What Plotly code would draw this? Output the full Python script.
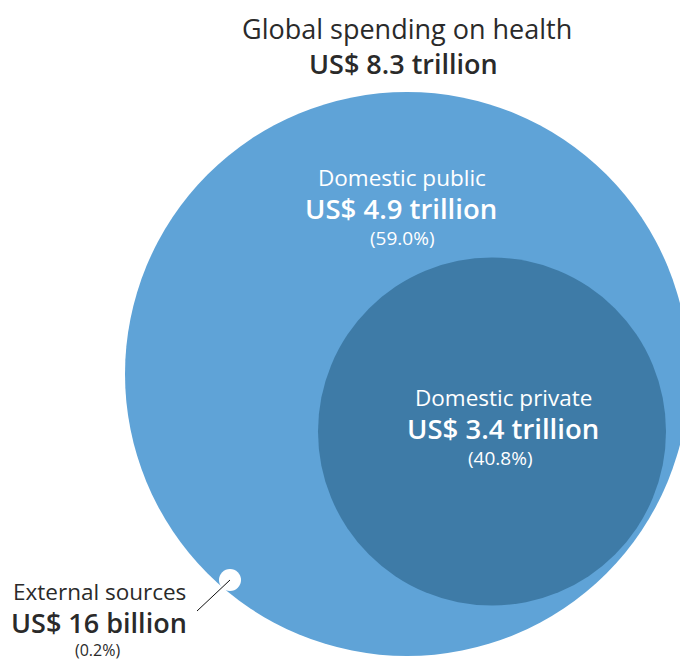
import plotly.graph_objects as go

# ---- data ----
title_label = "Global spending on health"
title_amount = "US$ 8.3 trillion"
categories = ["Domestic public", "Domestic private", "External sources"]
amounts = ["US$ 4.9 trillion", "US$ 3.4 trillion", "US$ 16 billion"]
shares = ["59.0%", "40.8%", "0.2%"]

# ---- layout (pixel-like coordinate space) ----
W, H = 680, 661
outer = dict(cx=407, cy=374, r=282)
inner = dict(cx=492, cy=431.5, r=174)
ext = dict(cx=230, cy=580, r=11)

OUTER_C = "#5fa3d7"
INNER_C = "#3e7ba7"
TEXT_C = "#2a2a2a"
FONT = "Open Sans"

fig = go.Figure()
fig.add_trace(go.Scatter(x=[0, W], y=[0, H], mode="markers",
                         marker=dict(opacity=0), hoverinfo="skip", showlegend=False))

def circle(c, color):
    fig.add_shape(type="circle", xref="x", yref="y",
                  x0=c["cx"] - c["r"], x1=c["cx"] + c["r"],
                  y0=c["cy"] - c["r"], y1=c["cy"] + c["r"],
                  fillcolor=color, line=dict(width=0), layer="below")

circle(outer, OUTER_C)
circle(inner, INNER_C)
circle(ext, "#ffffff")

# leader line for external sources
fig.add_shape(type="line", xref="x", yref="y", x0=197, y0=611, x1=ext["cx"], y1=ext["cy"],
              line=dict(color="#111111", width=1))

def label(x, y, text, size, color, weight="normal"):
    fig.add_annotation(x=x, y=y, xref="x", yref="y", text=text, showarrow=False,
                       xanchor="center", yanchor="middle", borderpad=0,
                       font=dict(family=FONT, size=size, color=color, weight=weight))

# title
label(407, 28, title_label, 27, TEXT_C)
label(403, 63, title_amount, 27, TEXT_C, 600)

# domestic public
label(402, 177, categories[0], 22.5, "white")
label(401, 208, amounts[0], 27.5, "white", 600)
label(402, 238, "(" + shares[0] + ")", 19, "white")

# domestic private
label(503, 397, categories[1], 22.5, "white")
label(503, 428, amounts[1], 27.5, "white", 600)
label(500, 458, "(" + shares[1] + ")", 19, "white")

# external sources
label(99, 591, categories[2], 22.5, TEXT_C)
label(99, 622, amounts[2], 27, TEXT_C, 600)
label(97, 650, "(" + shares[2] + ")", 16, TEXT_C)

fig.update_xaxes(range=[0, W], visible=False, fixedrange=True)
fig.update_yaxes(range=[H, 0], visible=False, fixedrange=True)
fig.update_layout(width=W, height=H, margin=dict(l=0, r=0, t=0, b=0),
                  plot_bgcolor="white", paper_bgcolor="white", showlegend=False)

fig.write_html("out.html", config={"displayModeBar": False},
               post_script="document.body.style.margin='0px';document.body.style.overflow='hidden';")
